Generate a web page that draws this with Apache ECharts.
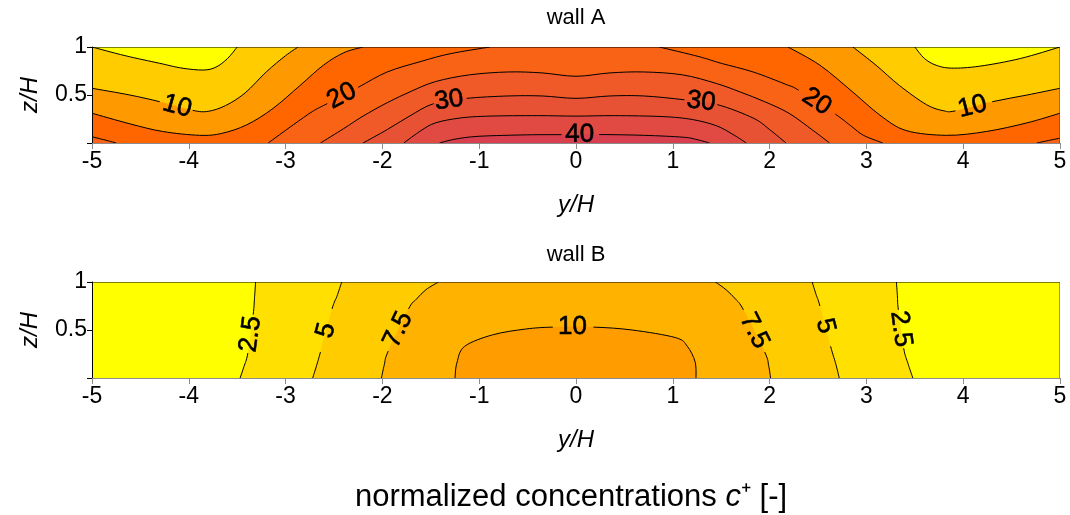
<!DOCTYPE html>
<html><head><meta charset="utf-8">
<script src="https://cdn.jsdelivr.net/npm/echarts@6/dist/echarts.min.js"></script>
<style>html,body{margin:0;padding:0;background:#fff}#c{width:1070px;height:515px}</style>
</head><body><div id="c"></div>
<script>
// ---- axes ----
const xTicks = [-5,-4,-3,-2,-1,0,1,2,3,4,5];
const zTicks = [0, 0.5, 1];

// ---- wall A: contour levels and band colours ----
const levelsA = [5,10,15,20,25,30,35,40];
const colorsA = ['#FFFF00','#FFCC00','#FF9900','#FF6600','#F96316','#F05A28','#E85234','#E04A42','#D8404F'];

// contour lines wall A, points [y/H, z/H]; null = gap where the label sits
const A5L  = [[-5,1],[-4.66,0.91],[-4.3,0.83],[-4.07,0.78],[-3.85,0.76],[-3.72,0.79],[-3.6,0.88],[-3.5,1]];
const A5R  = [[3.5,1],[3.6,0.88],[3.72,0.81],[3.88,0.78],[4.17,0.80],[4.59,0.88],[5,1]];
const A10L = [[-5,0.57],[-4.61,0.50],[-4.30,0.43],null,[-3.96,0.34],[-3.80,0.33],[-3.62,0.39],[-3.42,0.52],[-3.2,0.74],[-3.0,0.91],[-2.87,1]];
const A10R = [[2.86,1],[3.10,0.81],[3.34,0.60],[3.62,0.40],[3.80,0.335],[3.92,0.335],null,[4.30,0.43],[4.66,0.50],[5,0.57]];
const A15L = [[-5,0.31],[-4.61,0.20],[-4.27,0.12],[-3.89,0.08],[-3.66,0.10],[-3.40,0.19],[-3.13,0.36],[-2.85,0.60],[-2.61,0.81],[-2.40,0.94],[-2.2,1]];
const A15R = [[2.19,1],[2.52,0.81],[2.86,0.53],[3.14,0.29],[3.41,0.13],[3.83,0.08],[4.24,0.12],[4.66,0.21],[5,0.31]];
const A20LL = [[-5,0.065],[-4.88,0.035],[-4.75,0]];
const A20CL = [[-3.18,0],[-2.92,0.19],[-2.72,0.33],[-2.57,0.41],null,[-2.25,0.58],[-1.95,0.74],[-1.6,0.85],[-1.3,0.93],[-0.89,1]];
const A20CR = [[0.86,1],[1.27,0.90],[1.5,0.83],[1.83,0.74],[2.17,0.61],[2.30,0.55],null,[2.68,0.30],[2.85,0.17],[2.97,0.08],[3.17,0]];
const A20RR = [[4.76,0],[4.9,0.03],[5,0.05]];
const A25  = [[-2.64,0],[-2.4,0.15],[-2.2,0.28],[-1.95,0.42],[-1.7,0.54],[-1.45,0.64],[-1.1,0.71],[-0.7,0.74],[-0.35,0.73],[0,0.695],[0.35,0.73],[0.7,0.74],[1.1,0.71],[1.45,0.62],[1.7,0.53],[1.95,0.43],[2.2,0.31],[2.45,0.13],[2.62,0]];
const A30  = [[-2.2,0],[-1.95,0.14],[-1.72,0.28],[-1.47,0.41],null,[-1.13,0.465],[-0.7,0.49],[-0.35,0.49],[0,0.465],[0.35,0.49],[0.7,0.49],[1.12,0.45],null,[1.46,0.40],[1.83,0.26],[2.0,0.14],[2.17,0]];
const A35  = [[-1.78,0],[-1.6,0.13],[-1.45,0.21],[-1.2,0.26],[-0.9,0.28],[-0.4,0.285],[0,0.28],[0.4,0.285],[0.9,0.275],[1.2,0.245],[1.45,0.18],[1.62,0.09],[1.76,0]];
const A40  = [[-1.41,0],[-1.25,0.04],[-1.0,0.07],[-0.5,0.085],[-0.15,0.087],null,[0.24,0.088],[0.7,0.08],[1.11,0.06],[1.25,0.035],[1.38,0]];

// ---- wall B ----
const levelsB = [2.5,5,7.5,10];
const colorsB = ['#FFFF00','#FFE000','#FFCC00','#FFB200','#FF9C00'];
const B25L = [[-3.31,1],[-3.32,0.85],[-3.335,0.66],null,[-3.39,0.26],[-3.43,0.12],[-3.47,0]];
const B25R = [[3.31,1],[3.32,0.86],[3.33,0.71],null,[3.385,0.31],[3.43,0.15],[3.48,0]];
const B5L  = [[-2.42,1],[-2.47,0.85],[-2.52,0.72],null,[-2.64,0.27],[-2.68,0.13],[-2.72,0]];
const B5R  = [[2.44,1],[2.48,0.87],[2.52,0.75],null,[2.63,0.33],[2.68,0.16],[2.72,0]];
const B75L = [[-1.42,1],[-1.55,0.92],[-1.65,0.82],[-1.73,0.72],null,[-1.94,0.28],[-1.98,0.14],[-2.01,0]];
const B75R = [[1.44,1],[1.55,0.92],[1.65,0.82],[1.73,0.71],null,[1.95,0.27],[1.99,0.13],[2.01,0]];
const B10  = [[-1.25,0],[-1.23,0.16],[-1.15,0.33],[-0.86,0.45],[-0.52,0.51],[-0.24,0.53],null,[0.18,0.53],[0.58,0.50],[1.03,0.42],[1.15,0.33],[1.23,0.17],[1.24,0]];

// contour line -> level index
const contoursA = [[0,A5L],[0,A5R],[1,A10L],[1,A10R],[2,A15L],[2,A15R],[3,A20LL],[3,A20CL],[3,A20CR],[3,A20RR],[4,A25],[5,A30],[6,A35],[7,A40]];
const contoursB = [[0,B25L],[0,B25R],[1,B5L],[1,B5R],[2,B75L],[2,B75R],[3,B10]];

// filled regions (painted in order): band index + boundary pieces (s = contour, p = plot corners)
const X0 = xTicks[0], X1 = xTicks[xTicks.length-1], Z0 = zTicks[0], Z1 = zTicks[zTicks.length-1];
const fillsA = [
  {b:0, parts:[{p:[[X0,Z0],[X1,Z0],[X1,Z1],[X0,Z1]]}]},
  {b:1, parts:[{s:A5L},{s:A5R},{p:[[X1,Z0],[X0,Z0]]}]},
  {b:2, parts:[{s:A10L},{s:A10R},{p:[[X1,Z0],[X0,Z0]]}]},
  {b:3, parts:[{s:A15L},{s:A15R},{p:[[X1,Z0],[X0,Z0]]}]},
  {b:4, parts:[{s:A20LL},{p:[[X0,Z0]]}]},
  {b:4, parts:[{s:A20CL},{s:A20CR}]},
  {b:4, parts:[{s:A20RR},{p:[[X1,Z0]]}]},
  {b:5, parts:[{s:A25}]},
  {b:6, parts:[{s:A30}]},
  {b:7, parts:[{s:A35}]},
  {b:8, parts:[{s:A40}]}
];
const fillsB = [
  {b:0, parts:[{p:[[X0,Z0],[X1,Z0],[X1,Z1],[X0,Z1]]}]},
  {b:1, parts:[{s:B25L},{s:B25R,r:1}]},
  {b:2, parts:[{s:B5L},{s:B5R,r:1}]},
  {b:3, parts:[{s:B75L},{s:B75R,r:1}]},
  {b:4, parts:[{s:B10}]}
];

function f(v){return v.toFixed(2);}
function segs(P){
  const n=P.length, S=[];
  for(let i=0;i<n-1;i++){
    const p0=P[Math.max(i-1,0)], p1=P[i], p2=P[i+1], p3=P[Math.min(i+2,n-1)];
    const c1=[p1[0]+(p2[0]-p0[0])/6, p1[1]+(p2[1]-p0[1])/6];
    const c2=[p2[0]-(p3[0]-p1[0])/6, p2[1]-(p3[1]-p1[1])/6];
    S.push([p1,c1,c2,p2]);
  }
  return S;
}
function makeRender(fills, colors, contours, levels){
  return function(params, api){
    const ch=[];
    const cv = p => api.coord(p);
    fills.forEach(fl=>{
      let d='';
      fl.parts.forEach((part,k)=>{
        if(part.s){
          let pts=part.s.filter(p=>p!==null);
          if(part.r) pts=pts.slice().reverse();
          const P=pts.map(cv);
          d+=(k===0?'M':'L')+f(P[0][0])+' '+f(P[0][1])+' ';
          segs(P).forEach(s=>{d+='C'+f(s[1][0])+' '+f(s[1][1])+' '+f(s[2][0])+' '+f(s[2][1])+' '+f(s[3][0])+' '+f(s[3][1])+' ';});
        } else {
          part.p.forEach((pt,j)=>{const c=cv(pt); d+=((k===0&&j===0)?'M':'L')+f(c[0])+' '+f(c[1])+' ';});
        }
      });
      d+='Z';
      ch.push({type:'path', shape:{pathData:d}, style:{fill:colors[fl.b], stroke:colors[fl.b], lineWidth:0.3}});
    });
    const labels=[];
    contours.forEach(([li,line])=>{
      const P=[], gaps=[];
      line.forEach(p=>{ if(p===null) gaps.push(P.length-1); else P.push(cv(p)); });
      const S=segs(P);
      let d='', pen=false;
      S.forEach((s,i)=>{
        if(gaps.indexOf(i)>=0){
          pen=false;
          const x=(s[0][0]+3*s[1][0]+3*s[2][0]+s[3][0])/8, y=(s[0][1]+3*s[1][1]+3*s[2][1]+s[3][1])/8;
          let dx=0.75*(s[1][0]-s[0][0])+1.5*(s[2][0]-s[1][0])+0.75*(s[3][0]-s[2][0]);
          let dy=0.75*(s[1][1]-s[0][1])+1.5*(s[2][1]-s[1][1])+0.75*(s[3][1]-s[2][1]);
          if(dx<0){dx=-dx;dy=-dy;}
          labels.push({type:'text', x:x, y:y, rotation:-Math.atan2(dy,dx),
            style:{text:String(levels[li]), fill:'#000', stroke:'#000', lineWidth:0.6, font:'26px "Liberation Sans", Arial, sans-serif', align:'center', verticalAlign:'middle'}});
          return;
        }
        if(!pen){d+='M'+f(s[0][0])+' '+f(s[0][1])+' '; pen=true;}
        d+='C'+f(s[1][0])+' '+f(s[1][1])+' '+f(s[2][0])+' '+f(s[2][1])+' '+f(s[3][0])+' '+f(s[3][1])+' ';
      });
      ch.push({type:'path', shape:{pathData:d}, style:{fill:null, stroke:'#000', lineWidth:1}});
    });
    // plot frame top & right
    const tl=cv([X0,Z1]), tr=cv([X1,Z1]), br=cv([X1,Z0]);
    ch.push({type:'polyline', shape:{points:[tl,tr]}, style:{stroke:'#000', lineWidth:1, fill:null}});
    ch.push({type:'polyline', shape:{points:[tr,br]}, style:{stroke:'#444', lineWidth:1, fill:null}});
    return {type:'group', children: ch.concat(labels)};
  };
}

const FONT='"Liberation Sans", Arial, sans-serif';
function xAx(g){
  return {gridIndex:g, type:'value', min:X0, max:X1, interval:1, z:10,
    axisLine:{show:true, onZero:false, lineStyle:{color:'#8c8c8c', width:1}},
    axisTick:{show:true, length:6, lineStyle:{color:'#8c8c8c'}},
    axisLabel:{fontSize:23, color:'#000', margin:7, fontFamily:FONT},
    splitLine:{show:false},
    name:'y/H', nameLocation:'middle', nameGap:50,
    nameTextStyle:{fontSize:24, fontStyle:'italic', color:'#000', fontFamily:FONT}};
}
function yAx(g){
  return {gridIndex:g, type:'value', min:Z0, max:Z1, interval:0.5, z:10,
    axisLine:{show:true, onZero:false, lineStyle:{color:'#000', width:1}},
    axisTick:{show:true, length:5, lineStyle:{color:'#000'}},
    axisLabel:{fontSize:23, color:'#000', margin:5, fontFamily:FONT, formatter:v=> v===Z0?'':String(v)},
    splitLine:{show:false},
    name:'z/H', nameLocation:'middle', nameRotate:90, nameGap:50,
    nameTextStyle:{fontSize:24, fontStyle:'italic', color:'#000', fontFamily:FONT}};
}

const chart = echarts.init(document.getElementById('c'), null, {renderer:'canvas'});
chart.setOption({
  animation:false,
  backgroundColor:'#fff',
  grid:[{left:92, top:47, width:968, height:96},{left:92, top:282, width:968, height:96}],
  xAxis:[xAx(0), xAx(1)],
  yAxis:[yAx(0), yAx(1)],
  series:[
    {type:'custom', coordinateSystem:'cartesian2d', xAxisIndex:0, yAxisIndex:0, silent:true, clip:true,
     data:[[0,0.5]], renderItem: makeRender(fillsA, colorsA, contoursA, levelsA)},
    {type:'custom', coordinateSystem:'cartesian2d', xAxisIndex:1, yAxisIndex:1, silent:true, clip:true,
     data:[[0,0.5]], renderItem: makeRender(fillsB, colorsB, contoursB, levelsB)}
  ],
  graphic:[
    {type:'text', x:576, y:18, style:{text:'wall A', font:'22px '+FONT, fill:'#000', align:'center', verticalAlign:'middle'}},
    {type:'text', x:576, y:255, style:{text:'wall B', font:'22px '+FONT, fill:'#000', align:'center', verticalAlign:'middle'}},
    {type:'text', x:571, y:497, style:{text:'{n|normalized concentrations }{i|c}{n|⁺ [-]}', align:'center', verticalAlign:'middle',
      rich:{n:{fontSize:31, fontFamily:FONT, fill:'#000'}, i:{fontSize:31, fontFamily:FONT, fontStyle:'italic', fill:'#000'}}}}
  ]
});
</script></body></html>
